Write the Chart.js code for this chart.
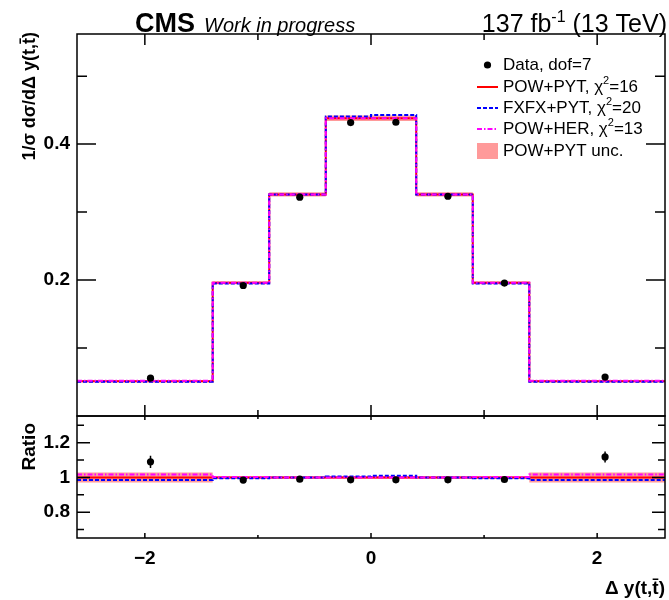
<!DOCTYPE html>
<html>
<head>
<meta charset="utf-8">
<script src="https://cdn.jsdelivr.net/npm/chart.js@4.4.1/dist/chart.umd.min.js"></script>
<style>
  html, body { margin: 0; padding: 0; background: #fff; }
  #wrap { width: 669px; height: 600px; }
</style>
</head>
<body>
<div id="wrap"><canvas id="dyChart" width="669" height="600"></canvas></div>
<script>
// Δy(t,t̄) binning and normalised cross sections
const binEdges = [-2.6, -1.4, -0.9, -0.4, 0, 0.4, 0.9, 1.4, 2.6];
const dataX    = [-1.95, -1.13, -0.63, -0.18, 0.22, 0.68, 1.18, 2.07];
const dataY    = [0.0556, 0.192, 0.322, 0.4317, 0.4322, 0.3233, 0.1956, 0.0572];
const dataErr  = [0.0018, 0.002, 0.003, 0.004, 0.004, 0.003, 0.002, 0.0018];
const powPyt   = [0.0512, 0.196, 0.326, 0.438, 0.438, 0.326, 0.196, 0.0512];
const fxfxPyt  = [0.0505, 0.195, 0.326, 0.4405, 0.443, 0.326, 0.195, 0.0505];
const powHer   = [0.052, 0.196, 0.326, 0.438, 0.438, 0.326, 0.196, 0.052];
const powPytUnc = [0.0015, 0.002, 0.003, 0.004, 0.004, 0.003, 0.002, 0.0015];

// ratio to POW+PYT
const ratioData  = [1.09, 0.985, 0.99, 0.986, 0.986, 0.986, 0.988, 1.118];
const ratioErr   = [0.035, 0.01, 0.009, 0.009, 0.009, 0.009, 0.01, 0.032];
const ratioPowPyt = [1, 1, 1, 1, 1, 1, 1, 1];
const ratioFxfx  = [0.985, 0.995, 1.0, 1.005, 1.009, 1.0, 0.995, 0.985];
const ratioHer   = [1.017, 1.003, 1.0, 0.999, 0.999, 1.0, 1.003, 1.017];
const ratioUnc   = [0.029, 0.007, 0.007, 0.008, 0.008, 0.007, 0.007, 0.029];

// axis ticks
const xTicks = [-2, 0, 2];
const xMinorTicks = [-1, 1];
const yTicks = [0.2, 0.4];
const yMinorTicks = [0.1, 0.3, 0.5];
const ratioTicks = [0.8, 1, 1.2];
const ratioMinorTicks = [0.7, 0.9, 1.1, 1.3];

const RED = '#ff0000', BLUE = '#0000ff', MAGENTA = '#ff00ff', BAND = 'rgba(255,120,120,0.75)';
const FONT = '"Liberation Sans", Arial, Helvetica, sans-serif';

// histogram outline: one point per bin edge, the last edge repeats the last bin
function histPoints(vals, unc, sign) {
    return binEdges.map((e, i) => {
        const k = Math.min(i, vals.length - 1);
        return { x: e, y: vals[k] + (unc ? sign * unc[k] : 0) };
    });
}
function pts(xs, ys) { return xs.map((x, i) => ({ x: x, y: ys[i] })); }

function histSet(vals, axis, color, dash, order) {
    return {
        data: histPoints(vals), yAxisID: axis, stepped: 'before',
        borderColor: color, borderWidth: 2, borderDash: dash, pointRadius: 0,
        fill: false, order: order
    };
}
function bandSet(vals, unc, axis, sign, order) {
    return {
        data: histPoints(vals, unc, sign), yAxisID: axis, stepped: 'before',
        borderWidth: 0, borderColor: 'rgba(0,0,0,0)', backgroundColor: BAND,
        pointRadius: 0, fill: sign < 0 ? '-1' : false, order: order
    };
}
function pointSet(ys, axis) {
    return {
        data: pts(dataX, ys), yAxisID: axis, showLine: false,
        pointRadius: 3.6, pointBackgroundColor: '#000', pointBorderColor: '#000',
        pointBorderWidth: 0, order: 0
    };
}

// text with superscripts: parts = [[text, font, dy], ...]
function drawRich(ctx, parts, x, y, align) {
    let w = 0;
    parts.forEach(p => { ctx.font = p[1]; w += ctx.measureText(p[0]).width; });
    let cx = align === 'right' ? x - w : x;
    ctx.textAlign = 'left';
    parts.forEach(p => {
        ctx.font = p[1];
        ctx.fillText(p[0], cx, y + (p[2] || 0));
        cx += ctx.measureText(p[0]).width;
    });
}

// frames, tick marks, error bars, titles and legend
const decorations = {
    id: 'decorations',
    afterDatasetsDraw(chart) {
        const ctx = chart.ctx;
        const sx = chart.scales.x, sy = chart.scales.y, sr = chart.scales.yr;
        ctx.save();

        // error bars
        ctx.strokeStyle = '#000';
        ctx.lineWidth = 1.5;
        dataX.forEach((x, i) => {
            const px = sx.getPixelForValue(x);
            ctx.beginPath();
            ctx.moveTo(px, sy.getPixelForValue(dataY[i] - dataErr[i]));
            ctx.lineTo(px, sy.getPixelForValue(dataY[i] + dataErr[i]));
            ctx.moveTo(px, sr.getPixelForValue(ratioData[i] - ratioErr[i]));
            ctx.lineTo(px, sr.getPixelForValue(ratioData[i] + ratioErr[i]));
            ctx.stroke();
        });

        // frames
        ctx.lineWidth = 1.5;
        [sy, sr].forEach(s => {
            ctx.strokeRect(sx.left, s.top, sx.right - sx.left, s.bottom - s.top);
        });

        function xTick(s, vals, lenTop, lenBot) {
            vals.forEach(v => {
                const px = sx.getPixelForValue(v);
                ctx.beginPath();
                ctx.moveTo(px, s.top); ctx.lineTo(px, s.top + lenTop);
                ctx.moveTo(px, s.bottom); ctx.lineTo(px, s.bottom - lenBot);
                ctx.stroke();
            });
        }
        function yTick(s, vals, len) {
            vals.forEach(v => {
                const py = s.getPixelForValue(v);
                ctx.beginPath();
                ctx.moveTo(sx.left, py); ctx.lineTo(sx.left + len, py);
                ctx.moveTo(sx.right, py); ctx.lineTo(sx.right - len, py);
                ctx.stroke();
            });
        }
        xTick(sy, xTicks, 11, 11);
        xTick(sy, xMinorTicks, 6, 6);
        yTick(sy, yTicks, 19);
        yTick(sy, yMinorTicks, 10);
        xTick(sr, xTicks, 4, 5);
        xTick(sr, xMinorTicks, 3, 3);
        yTick(sr, ratioTicks, 13);
        yTick(sr, ratioMinorTicks, 7);

        ctx.fillStyle = '#000';
        ctx.textBaseline = 'alphabetic';

        // header
        ctx.font = 'bold 27px ' + FONT;
        ctx.fillText('CMS', 135, 32);
        ctx.font = 'italic 20px ' + FONT;
        ctx.fillText('Work in progress', 204, 32);
        drawRich(ctx, [['137 fb', '25px ' + FONT], ['-1', '16px ' + FONT, -10], [' (13 TeV)', '25px ' + FONT]], 667, 32, 'right');

        // axis titles
        ctx.save();
        ctx.translate(35, 32);
        ctx.rotate(-Math.PI / 2);
        ctx.textAlign = 'right';
        ctx.font = 'bold 18px ' + FONT;
        ctx.fillText('1/\u03c3 d\u03c3/d\u0394 y(t,t\u0304)', 0, 0);
        ctx.restore();

        ctx.save();
        ctx.translate(35, 423);
        ctx.rotate(-Math.PI / 2);
        ctx.textAlign = 'right';
        ctx.font = 'bold 19px ' + FONT;
        ctx.fillText('Ratio', 0, 0);
        ctx.restore();

        ctx.textAlign = 'right';
        ctx.font = 'bold 19px ' + FONT;
        ctx.fillText('\u0394 y(t,t\u0304)', 665, 594);

        // legend
        const lx0 = 477, lx1 = 498, tx = 503;
        const rows = [65, 87, 108, 129, 151];
        const f = '17px ' + FONT, fs = '11px ' + FONT;
        ctx.textBaseline = 'middle';
        ctx.beginPath();
        ctx.arc((lx0 + lx1) / 2, rows[0], 3.6, 0, Math.PI * 2);
        ctx.fill();
        ctx.font = f; ctx.textAlign = 'left';
        ctx.fillText('Data, dof=7', tx, rows[0]);

        const lines = [
            [RED, [], 'POW+PYT, \u03c7', '=16'],
            [BLUE, [4, 2], 'FXFX+PYT, \u03c7', '=20'],
            [MAGENTA, [5, 2, 1.5, 2], 'POW+HER, \u03c7', '=13']
        ];
        lines.forEach((l, i) => {
            const y = rows[i + 1];
            ctx.strokeStyle = l[0];
            ctx.lineWidth = 2;
            ctx.setLineDash(l[1]);
            ctx.beginPath(); ctx.moveTo(lx0, y); ctx.lineTo(lx1, y); ctx.stroke();
            ctx.setLineDash([]);
            drawRich(ctx, [[l[2], f], ['2', fs, -6], [l[3], f]], tx, y, 'left');
        });
        ctx.fillStyle = BAND;
        ctx.fillRect(lx0, rows[4] - 8, lx1 - lx0, 16);
        ctx.fillStyle = '#000';
        ctx.font = f;
        ctx.fillText('POW+PYT unc.', tx, rows[4]);

        ctx.restore();
    }
};

const tickFont = { family: FONT, size: 19, weight: 'bold' };

new Chart(document.getElementById('dyChart'), {
    type: 'line',
    data: {
        datasets: [
            pointSet(dataY, 'y'),
            pointSet(ratioData, 'yr'),
            histSet(powHer, 'y', MAGENTA, [5, 2, 1.5, 2], 1),
            histSet(ratioHer, 'yr', MAGENTA, [5, 2, 1.5, 2], 1),
            histSet(fxfxPyt, 'y', BLUE, [4, 2], 2),
            histSet(ratioFxfx, 'yr', BLUE, [4, 2], 2),
            histSet(powPyt, 'y', RED, [], 3),
            histSet(ratioPowPyt, 'yr', RED, [], 3),
            bandSet(powPyt, powPytUnc, 'y', 1, 5),
            bandSet(powPyt, powPytUnc, 'y', -1, 4),
            bandSet(ratioPowPyt, ratioUnc, 'yr', 1, 5),
            bandSet(ratioPowPyt, ratioUnc, 'yr', -1, 4)
        ]
    },
    options: {
        responsive: false,
        animation: false,
        events: [],
        layout: { padding: { top: 34, right: 3, left: 0, bottom: 0 } },
        plugins: { legend: { display: false }, tooltip: { enabled: false } },
        scales: {
            x: {
                type: 'linear', min: -2.6, max: 2.6,
                grid: { display: false, drawTicks: false }, border: { display: false },
                afterBuildTicks: s => { s.ticks = xTicks.map(v => ({ value: v })); },
                afterFit: s => { s.height = 62; },
                ticks: {
                    padding: 9, color: '#000', font: tickFont, maxRotation: 0,
                    callback: v => v < 0 ? '\u2212' + Math.abs(v) : String(v)
                }
            },
            y: {
                type: 'linear', position: 'left', stack: 'panels', stackWeight: 382, weight: 2,
                min: 0, max: 0.562,
                grid: { display: false, drawTicks: false }, border: { display: false },
                afterBuildTicks: s => { s.ticks = yTicks.map(v => ({ value: v })); },
                afterFit: s => { s.width = 77; },
                ticks: { padding: 7, color: '#000', font: tickFont, callback: v => v.toFixed(1) }
            },
            yr: {
                type: 'linear', position: 'left', stack: 'panels', stackWeight: 122, weight: 1,
                min: 0.651, max: 1.354,
                grid: { display: false, drawTicks: false }, border: { display: false },
                afterBuildTicks: s => { s.ticks = ratioTicks.map(v => ({ value: v })); },
                afterFit: s => { s.width = 77; },
                ticks: { padding: 7, color: '#000', font: tickFont, callback: v => v === 1 ? '1' : v.toFixed(1) }
            }
        }
    },
    plugins: [decorations]
});
</script>
</body>
</html>
